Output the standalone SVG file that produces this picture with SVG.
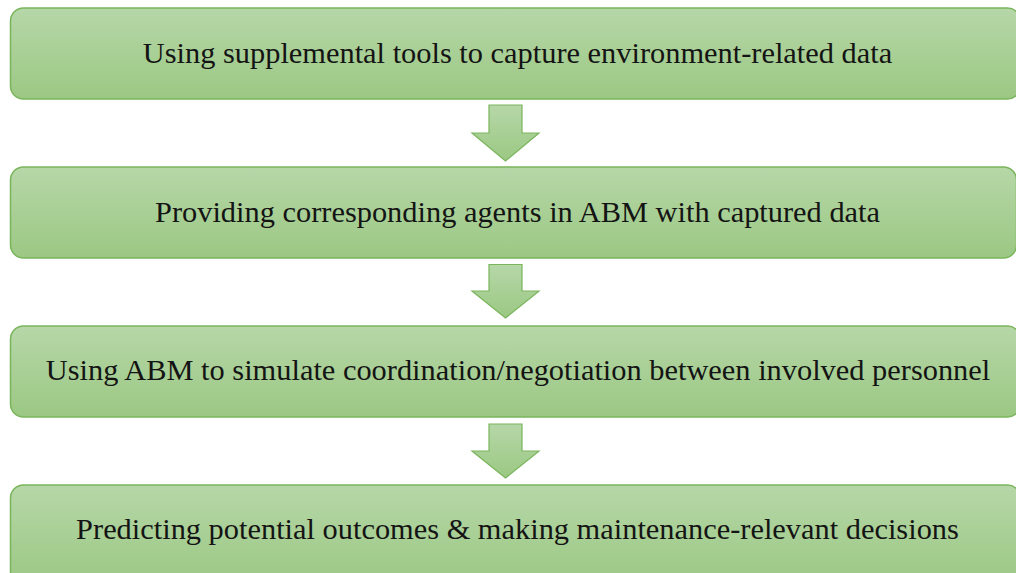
<svg xmlns="http://www.w3.org/2000/svg" width="1016" height="573" viewBox="0 0 1016 573">
<defs>
<linearGradient id="g" x1="0" y1="0" x2="0" y2="1">
<stop offset="0" stop-color="#b6d7a8"/>
<stop offset="1" stop-color="#9bc883"/>
</linearGradient>
<style>
.box{fill:url(#g);stroke:#7ab55c;stroke-width:1.5}
.arr{fill:url(#g);stroke:#7ab55c;stroke-width:1.2;stroke-linejoin:miter}
.t{font-family:"Liberation Serif","Times New Roman",serif;font-size:30.4px;fill:#141414;text-anchor:middle}
</style>
</defs>
<rect width="1016" height="573" fill="#fff"/>
<g id="node1"><rect class="box" x="10.5" y="8" width="1010" height="91" rx="13"/><text class="t" x="517.5" y="63">Using supplemental tools to capture environment-related data</text></g>
<g id="node2"><rect class="box" x="10.5" y="167" width="1006" height="91" rx="13"/><text class="t" x="517.5" y="222">Providing corresponding agents in ABM with captured data</text></g>
<g id="node3"><rect class="box" x="10.5" y="326" width="1010" height="91" rx="13"/><text class="t" x="518" y="380">Using ABM to simulate coordination/negotiation between involved personnel</text></g>
<g id="node4"><rect class="box" x="10.5" y="485" width="1010" height="100" rx="13"/><text class="t" x="517.5" y="539">Predicting potential outcomes &amp; making maintenance-relevant decisions</text></g>
<g id="connectors">
<path class="arr" d="M489 105 H522 V133 H539 L505.5 161 L472 133 H489 Z"/>
<path class="arr" d="M489 264.5 H522 V291 H539 L505.5 318 L472 291 H489 Z"/>
<path class="arr" d="M489 424 H522 V451 H539 L505.5 478 L472 451 H489 Z"/>
</g>
</svg>
